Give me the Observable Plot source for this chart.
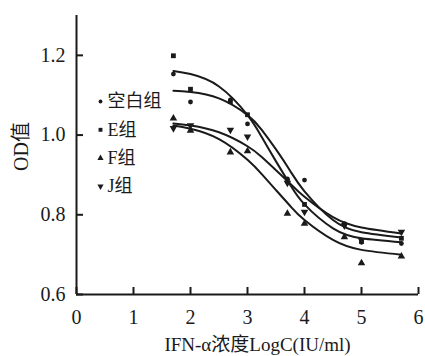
<!DOCTYPE html>
<html>
<head>
<meta charset="utf-8">
<script src="https://cdn.jsdelivr.net/npm/d3@7"></script>
<script src="https://cdn.jsdelivr.net/npm/@observablehq/plot@0.6"></script>
<style>
  html, body { margin: 0; padding: 0; background: #fff; }
  #chart { width: 425px; height: 356px; }
</style>
</head>
<body>
<div id="chart"></div>
<script>
// ---------- data ----------
const groups = ["空白组", "E组", "F组", "J组"];
const doseX = [1.7, 2.0, 2.7, 3.0, 3.7, 4.0, 4.7, 5.0, 5.7];
const blankOD = [1.153, 1.083, 1.088, 1.028, 0.890, 0.887, 0.778, 0.731, 0.728];
const eOD     = [1.199, 1.115, 1.084, 1.051, 0.885, 0.826, 0.776, 0.733, 0.741];
const fOD     = [1.042, 1.011, 0.957, 0.960, 0.803, 0.778, 0.744, 0.679, 0.696];
const jOD     = [1.017, 1.024, 1.013, 0.996, 0.880, 0.807, 0.773, 0.736, 0.757];

// fitted curves at these x positions
const fitX     = [1.7, 2.0, 2.5, 3.0, 3.25, 3.5, 3.75, 4.0, 4.5, 5.0, 5.7];
const blankFit = [1.161, 1.153, 1.122, 1.050, 0.995, 0.934, 0.875, 0.826, 0.766, 0.741, 0.731];
const eFit     = [1.111, 1.108, 1.092, 1.050, 1.013, 0.964, 0.910, 0.859, 0.787, 0.756, 0.743];
const fFit     = [1.024, 1.016, 0.990, 0.938, 0.902, 0.862, 0.822, 0.787, 0.737, 0.712, 0.700];
const jFit     = [1.029, 1.024, 1.007, 0.972, 0.945, 0.912, 0.878, 0.845, 0.794, 0.768, 0.753];

const xTicks = [0, 1, 2, 3, 4, 5, 6];
const yTicks = [0.6, 0.8, 1.0, 1.2];
const xLabel = "IFN-α浓度LogC(IU/ml)";
const yLabel = "OD值";

// ---------- layout / style ----------
const W = 425, H = 356;
const mL = 76, mR = 7, mT = 15, mB = 62;
const xDomain = [0, 6], yDomain = [0.6, 1.3];
const plotW = W - mL - mR, plotH = H - mT - mB;
const tickLen = 7;
const tickDy = tickLen * (yDomain[1] - yDomain[0]) / plotH;
const tickDx = tickLen * (xDomain[1] - xDomain[0]) / plotW;
const ink = "#1a1a1a";
const serif = "'Liberation Serif', 'Noto Sans CJK SC', serif";

const seriesOD = [blankOD, eOD, fOD, jOD];
const seriesFit = [blankFit, eFit, fFit, jFit];
const symbolOf = ["circle", "square", "triangle", "triangle"];
const rotateOf = [0, 0, 0, 180];
const rOf = [2.4, 2.7, 2.8, 2.8];
const legendROf = [1.9, 2.2, 2.3, 2.3];

const fitRows = [];
seriesFit.forEach((s, gi) => fitX.forEach((x, i) => fitRows.push({group: groups[gi], x, y: s[i]})));

const pointMarks = seriesOD.map((s, gi) =>
  Plot.dot(doseX.map((x, i) => ({x, y: s[i]})), {
    x: "x", y: "y", symbol: symbolOf[gi], r: rOf[gi], rotate: rotateOf[gi],
    fill: ink, stroke: "none"
  })
);

const legendMarks = groups.flatMap((g, gi) => [
  Plot.dot([g], {frameAnchor: "top-left", dx: 24, dy: 86 + 28.3 * gi,
    symbol: symbolOf[gi], r: legendROf[gi], rotate: rotateOf[gi], fill: ink}),
  Plot.text([g], {frameAnchor: "top-left", text: d => d, dx: 31, dy: 86 + 28.3 * gi,
    textAnchor: "start", lineAnchor: "middle", fontSize: 18, fill: ink})
]);

const chart = Plot.plot({
  width: W, height: H,
  marginLeft: mL, marginRight: mR, marginTop: mT, marginBottom: mB,
  style: {fontFamily: serif, fontSize: "20px", color: ink, background: "#fff", overflow: "visible"},
  x: {domain: xDomain},
  y: {domain: yDomain},
  marks: [
    // axis lines
    Plot.ruleX([xDomain[0]], {stroke: ink, strokeWidth: 2}),
    Plot.ruleY([yDomain[0]], {stroke: ink, strokeWidth: 2}),
    // inward ticks
    Plot.ruleX(xTicks, {x: d => d, y1: yDomain[0], y2: yDomain[0] + tickDy, stroke: ink, strokeWidth: 2}),
    Plot.ruleY(yTicks, {y: d => d, x1: xDomain[0], x2: xDomain[0] + tickDx, stroke: ink, strokeWidth: 2}),
    // tick labels
    Plot.axisX({ticks: xTicks, tickSize: 0, tickPadding: 15, label: null, fontSize: 20,
      tickFormat: d3.format("d"), fill: ink}),
    Plot.axisY({ticks: yTicks, tickSize: 0, tickPadding: 11, label: null, fontSize: 20,
      tickFormat: d3.format(".1f"), fill: ink}),
    // axis titles
    Plot.text([xLabel], {frameAnchor: "bottom", text: d => d, dx: 10, dy: 50,
      lineAnchor: "middle", fontSize: 19, fill: ink}),
    Plot.text([yLabel], {frameAnchor: "left", text: d => d, dx: -55, dy: 16, rotate: -90,
      lineAnchor: "middle", fontSize: 20, fill: ink}),
    // fitted curves
    Plot.line(fitRows, {x: "x", y: "y", z: "group", curve: "natural", stroke: ink, strokeWidth: 2}),
    // data points
    ...pointMarks,
    // legend
    ...legendMarks
  ]
});
document.getElementById("chart").append(chart);
</script>
</body>
</html>
